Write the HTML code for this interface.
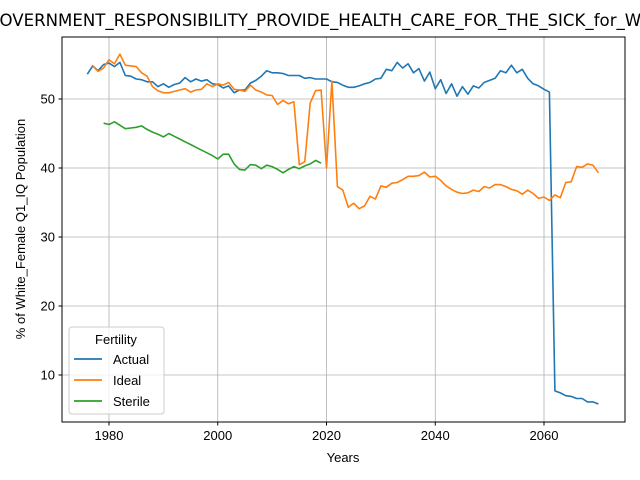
<!DOCTYPE html>
<html><head><meta charset="utf-8"><style>
body{margin:0;background:#fff}
svg{display:block;font-family:"Liberation Sans","DejaVu Sans",sans-serif}
</style></head><body>
<svg id="chart" width="640" height="480" viewBox="0 0 640 480">
<rect width="640" height="480" fill="#fff"/>
<g id="grid"></g>
<g id="series"></g>
<rect x="62" y="37" width="563" height="385" fill="none" stroke="#000" stroke-width="1"/>
<g id="ticks" font-size="13"></g>
<text x="364" y="26" text-anchor="middle" font-size="16.6" style="font-family:'DejaVu Sans',sans-serif">GOVERNMENT_RESPONSIBILITY_PROVIDE_HEALTH_CARE_FOR_THE_SICK_for_White_Female</text>
<text x="343" y="462" text-anchor="middle" font-size="13">Years</text>
<text transform="translate(25,229) rotate(-90)" text-anchor="middle" font-size="13">% of White_Female Q1_IQ Population</text>
<g>
<rect x="69" y="327" width="95" height="87" rx="3" fill="#fff" fill-opacity="0.8" stroke="#ccc"/>
<text x="116" y="344" text-anchor="middle" font-size="13">Fertility</text>
<g><line x1="74" y1="359" x2="102" y2="359" stroke="#1f77b4" stroke-width="1.8"/><text x="113" y="364" font-size="13">Actual</text></g>
<g><line x1="74" y1="380" x2="102" y2="380" stroke="#ff7f0e" stroke-width="1.8"/><text x="113" y="385" font-size="13">Ideal</text></g>
<g><line x1="74" y1="401" x2="102" y2="401" stroke="#2ca02c" stroke-width="1.8"/><text x="113" y="406" font-size="13">Sterile</text></g>
</g>
</svg>
<script>
const xTicks=[1980,2000,2020,2040,2060];
const yTicks=[10,20,30,40,50];
const actualStart=1976;
const actualValues=[53.6,54.8,54.1,55.0,55.2,54.7,55.3,53.4,53.3,52.9,52.8,52.5,52.5,51.8,52.2,51.7,52.1,52.3,53.1,52.5,52.9,52.6,52.8,52.2,52.1,51.6,51.9,50.9,51.3,51.3,52.3,52.7,53.3,54.1,53.8,53.8,53.7,53.4,53.4,53.4,53.0,53.1,52.9,52.9,52.9,52.5,52.4,52.0,51.7,51.7,51.9,52.2,52.4,52.9,53.0,54.3,54.1,55.3,54.5,55.1,53.8,54.4,52.6,53.9,51.5,52.8,50.8,52.2,50.4,51.8,50.7,51.9,51.6,52.4,52.7,53.0,54.1,53.8,54.9,53.8,54.3,53.0,52.2,51.9,51.4,51.0,7.7,7.4,7.0,6.9,6.6,6.6,6.1,6.1,5.8];
const idealStart=1977;
const idealValues=[54.8,54.0,54.5,55.7,55.1,56.5,54.9,54.8,54.7,53.8,53.3,51.8,51.2,50.9,50.9,51.1,51.3,51.5,51.0,51.3,51.4,52.2,51.8,52.2,52.0,52.4,51.4,51.3,51.1,52.0,51.3,51.0,50.6,50.5,49.2,49.8,49.3,49.6,40.5,40.9,49.4,51.2,51.3,40.0,52.6,37.3,36.8,34.3,34.9,34.1,34.5,35.9,35.5,37.4,37.2,37.8,37.9,38.3,38.8,38.8,38.9,39.4,38.7,38.8,38.2,37.4,36.9,36.5,36.3,36.4,36.8,36.6,37.3,37.1,37.6,37.6,37.3,36.9,36.7,36.2,36.8,36.3,35.6,35.8,35.3,36.1,35.7,37.9,38.0,40.2,40.1,40.6,40.4,39.3];
const sterileStart=1979;
const sterileValues=[46.5,46.3,46.7,46.2,45.7,45.8,45.9,46.1,45.6,45.2,44.9,44.5,45.0,44.6,44.2,43.8,43.4,43.0,42.6,42.2,41.8,41.3,42.0,42.0,40.6,39.8,39.7,40.5,40.4,39.9,40.4,40.2,39.8,39.3,39.8,40.2,39.9,40.3,40.6,41.1,40.7];

const NS='http://www.w3.org/2000/svg';
function xs(y){return 109+(y-1980)*5.4375;}
function ys(v){return 99+(50-v)*6.9;}
const grid=document.getElementById('grid'),ticks=document.getElementById('ticks'),series=document.getElementById('series');
function mk(tag,attrs,parent){const e=document.createElementNS(NS,tag);for(const k in attrs)e.setAttribute(k,attrs[k]);parent.appendChild(e);return e;}
xTicks.forEach(t=>{
  const x=xs(t);
  const g=mk('line',{x1:x,x2:x,y1:37,y2:422,stroke:'#b0b0b0','stroke-width':0.8},grid);
  
  
  mk('line',{x1:x,x2:x,y1:422,y2:425.5,stroke:'#000'},ticks);
  const tx=mk('text',{x:x,y:440,'text-anchor':'middle'},ticks);
  tx.textContent=t;
  
  
});
yTicks.forEach(t=>{
  const y=ys(t);
  const g=mk('line',{x1:62,x2:625,y1:y,y2:y,stroke:'#b0b0b0','stroke-width':0.8},grid);
  
  
  mk('line',{x1:58.5,x2:62,y1:y,y2:y,stroke:'#000'},ticks);
  const tx=mk('text',{x:55,y:y+4.5,'text-anchor':'end'},ticks);
  tx.textContent=t;
  
  
});
function line(start,vals,color,name){
  const pts=vals.map((v,i)=>xs(start+i).toFixed(1)+','+ys(v).toFixed(1)).join(' ');
  const p=mk('polyline',{points:pts,fill:'none',stroke:color,'stroke-width':1.6,'stroke-linejoin':'round'},series);
  
  
}
line(actualStart,actualValues,'#1f77b4','actual-line');
line(idealStart,idealValues,'#ff7f0e','ideal-line');
line(sterileStart,sterileValues,'#2ca02c','sterile-line');
</script>
</body></html>
